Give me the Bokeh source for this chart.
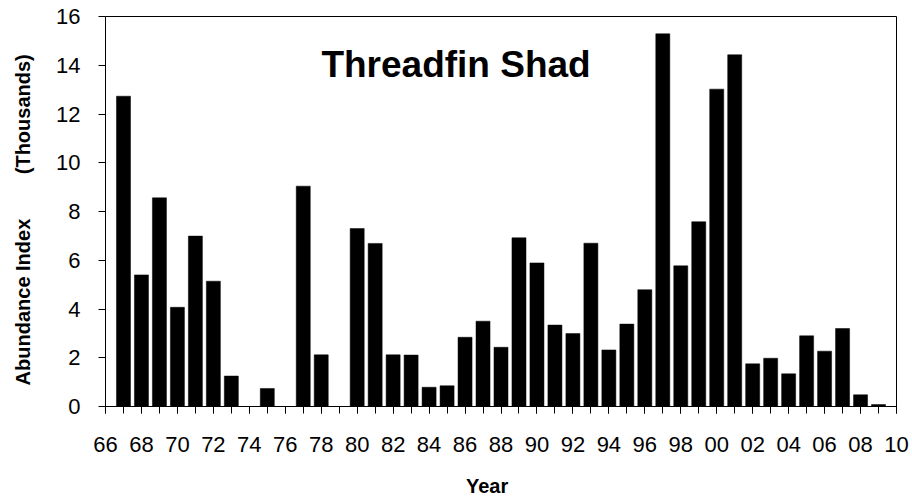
from bokeh.plotting import figure
from bokeh.models import FixedTicker, Label, Range1d, ColumnDataSource
from bokeh.embed import file_html
from bokeh.resources import INLINE

# ---- data ----
years = list(range(1967, 2010))
abundance = [12.73, 5.40, 8.56, 4.07, 6.99, 5.14, 1.25, 0.0, 0.74, 0.0,
             9.04, 2.12, 0.0, 7.30, 6.69, 2.12, 2.11, 0.79, 0.85, 2.84,
             3.50, 2.43, 6.92, 5.89, 3.34, 2.99, 6.70, 2.32, 3.38, 4.79,
             15.29, 5.77, 7.58, 13.02, 14.43, 1.75, 1.98, 1.34, 2.90, 2.27,
             3.20, 0.48, 0.08]
label_years = list(range(1966, 2011, 2))
tick_labels = ["66", "68", "70", "72", "74", "76", "78", "80", "82", "84", "86",
               "88", "90", "92", "94", "96", "98", "00", "02", "04", "06", "08", "10"]
all_years = list(range(1966, 2011))
y_ticks = [0, 2, 4, 6, 8, 10, 12, 14, 16]
title_text = "Threadfin Shad"

FONT = "Liberation Sans"
NB = "\u00a0"

p = figure(width=912, height=502, output_backend="svg", toolbar_location=None,
           x_range=Range1d(1966, 2010), y_range=Range1d(0, 16),
           min_border_left=105, min_border_top=16, min_border_right=16,
           min_border_bottom=96)

src = ColumnDataSource(dict(x=years, top=abundance))
p.vbar(x="x", top="top", width=0.78, bottom=0, source=src,
       fill_color="black", line_color="black", line_width=0.5)

p.grid.visible = False
p.outline_line_color = "black"
p.outline_line_width = 1
p.background_fill_color = "white"
p.border_fill_color = "white"

# x axis
xa = p.xaxis[0]
xa.ticker = FixedTicker(ticks=label_years, minor_ticks=all_years)
xa.major_label_overrides = {y: t for y, t in zip(label_years, tick_labels)}
xa.major_tick_in = 0
xa.major_tick_out = 7
xa.minor_tick_in = 0
xa.minor_tick_out = 7
xa.major_label_standoff = 23
xa.major_label_text_font = FONT
xa.major_label_text_font_size = "22px"
xa.major_label_text_color = "black"
xa.axis_label = "Year" + NB * 5
xa.axis_label_text_font = FONT
xa.axis_label_text_font_style = "bold"
xa.axis_label_text_font_size = "20px"
xa.axis_label_text_color = "black"
xa.axis_label_standoff = 20
xa.axis_line_color = "black"
xa.major_tick_line_color = "black"
xa.minor_tick_line_color = "black"

# y axis
ya = p.yaxis[0]
ya.ticker = FixedTicker(ticks=y_ticks)
ya.major_tick_in = 0
ya.major_tick_out = 7
ya.minor_tick_line_color = None
ya.major_label_standoff = 18
ya.major_label_text_font = FONT
ya.major_label_text_font_size = "22px"
ya.major_label_text_color = "black"
ya.axis_label = "Abundance Index" + NB * 8 + "(Thousands)" + NB * 3
ya.axis_label_text_font = FONT
ya.axis_label_text_font_style = "bold"
ya.axis_label_text_font_size = "20px"
ya.axis_label_text_color = "black"
ya.axis_label_standoff = 19
ya.axis_line_color = "black"
ya.major_tick_line_color = "black"

title = Label(x=1985.5, y=14.05, text=title_text, text_align="center",
              text_baseline="alphabetic", text_font=FONT,
              text_font_style="bold", text_font_size="37px", text_color="black")
p.add_layout(title)

open("out.html", "w").write(file_html(p, INLINE))
